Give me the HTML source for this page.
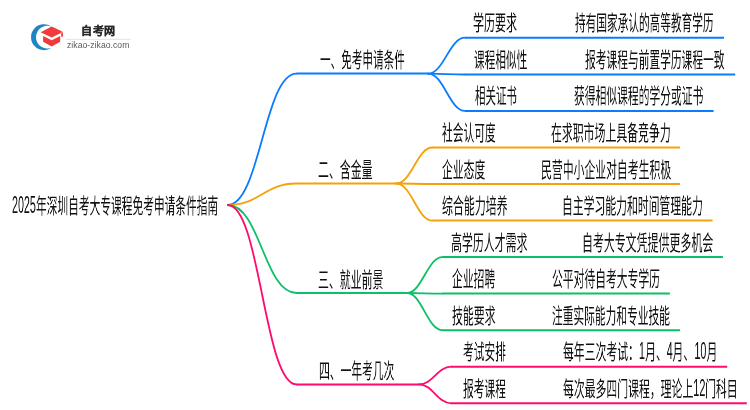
<!DOCTYPE html>
<html lang="zh-CN"><head><meta charset="utf-8"><style>
html,body{margin:0;padding:0;background:#fff;width:750px;height:410px;overflow:hidden;position:relative}
svg.lines{position:absolute;left:0;top:0}
svg.lines path{fill:none;stroke-width:1.8;stroke-linecap:round}
svg.lines path.h{stroke-width:2.0;stroke-linecap:butt}
svg.logo{position:absolute;left:0;top:0}
.d{display:inline-block;transform-origin:0 17.8px;transform:scaleY(1.13)}
.lg1{position:absolute;left:81.3px;top:22.8px;font-family:"Liberation Sans",sans-serif;font-size:11px;line-height:16px;font-weight:bold;color:#2a2a2a;-webkit-text-stroke:0.25px #2a2a2a;white-space:nowrap;letter-spacing:0.7px;will-change:transform}
.lg2{position:absolute;left:67.0px;top:39.5px;font-family:"Liberation Sans",sans-serif;font-size:8.6px;line-height:10px;color:#595959;white-space:nowrap;letter-spacing:0.05px;will-change:transform}
.t{position:absolute;font-family:"Liberation Sans",sans-serif;font-size:21px;line-height:21px;white-space:nowrap;transform-origin:0 0;transform:scaleX(0.515);will-change:transform;color:#111}
</style></head><body>
<svg class="lines" width="750" height="410" viewBox="0 0 750 410"><path d="M227.80 205.00C260.09 205.00 264.21 73.60 296.50 73.60" stroke="#0a7cff"/><path d="M428.20 73.60C443.66 73.60 449.54 37.70 465.00 37.70" stroke="#0a7cff"/><path d="M428.20 73.60C443.66 73.60 449.54 74.50 465.00 74.50" stroke="#0a7cff"/><path d="M428.20 73.60C443.66 73.60 449.54 110.90 465.00 110.90" stroke="#0a7cff"/><path d="M227.80 205.00C260.09 205.00 264.21 183.50 296.50 183.50" stroke="#f2a30c"/><path d="M396.30 183.50C411.46 183.50 417.24 147.50 432.40 147.50" stroke="#f2a30c"/><path d="M396.30 183.50C411.46 183.50 417.24 184.00 432.40 184.00" stroke="#f2a30c"/><path d="M396.30 183.50C411.46 183.50 417.24 220.60 432.40 220.60" stroke="#f2a30c"/><path d="M227.80 205.00C260.09 205.00 264.21 293.00 296.50 293.00" stroke="#0dbf68"/><path d="M407.00 293.00C421.87 293.00 427.53 257.10 442.40 257.10" stroke="#0dbf68"/><path d="M407.00 293.00C421.87 293.00 427.53 293.60 442.40 293.60" stroke="#0dbf68"/><path d="M407.00 293.00C421.87 293.00 427.53 330.20 442.40 330.20" stroke="#0dbf68"/><path d="M227.80 205.00C260.09 205.00 264.21 384.40 296.50 384.40" stroke="#ff0a6e"/><path d="M419.00 384.40C432.48 384.40 437.62 366.70 451.10 366.70" stroke="#ff0a6e"/><path d="M419.00 384.40C432.48 384.40 437.62 403.30 451.10 403.30" stroke="#ff0a6e"/><path class="h" d="M296.50 73.60H428.20" stroke="#0a7cff"/><path class="h" d="M465.00 37.70H724.00" stroke="#0a7cff"/><path class="h" d="M465.00 74.50H735.20" stroke="#0a7cff"/><path class="h" d="M465.00 110.90H713.60" stroke="#0a7cff"/><path class="h" d="M296.50 183.50H396.30" stroke="#f2a30c"/><path class="h" d="M432.40 147.50H680.10" stroke="#f2a30c"/><path class="h" d="M432.40 184.00H680.10" stroke="#f2a30c"/><path class="h" d="M432.40 220.60H712.60" stroke="#f2a30c"/><path class="h" d="M296.50 293.00H407.00" stroke="#0dbf68"/><path class="h" d="M442.40 257.10H722.90" stroke="#0dbf68"/><path class="h" d="M442.40 293.60H669.90" stroke="#0dbf68"/><path class="h" d="M442.40 330.20H680.10" stroke="#0dbf68"/><path class="h" d="M296.50 384.40H419.00" stroke="#ff0a6e"/><path class="h" d="M451.10 366.70H727.20" stroke="#ff0a6e"/><path class="h" d="M451.10 403.30H746.80" stroke="#ff0a6e"/></svg>
<svg class="logo" width="750" height="60" viewBox="0 0 750 60">
<path d="M51.5 26.55 A13 13 0 1 0 51.5 47.85 A11.41 11.41 0 1 1 51.5 26.55Z" fill="#1d84c6"/>
<path d="M40.6 32.2 L51.7 26.6 L62.2 31.6 L61.2 32.2 L61.2 36.7 L62.9 36.7 L62.9 32.0 L51.7 37.6Z" fill="#ef3b3b"/>
<path d="M43.1 36.0 L51.7 40.3 L60.2 36.0 L60.2 41.8 L51.7 46.6 L43.1 41.8Z" fill="#ef3b3b"/>
<rect x="65.8" y="38.9" width="64.8" height="0.9" fill="#e2e2e2"/>
</svg>
<div class="lg1">自考网</div><div class="lg2">zikao-zikao.com</div>
<div class="t" style="left:11.90px;top:194.70px;transform:scaleX(0.5103)"><span class="d">2025</span>年深圳自考大专课程免考申请条件指南</div><div class="t" style="left:319.50px;top:49.20px;transform:scaleX(0.5048)">一、免考申请条件</div><div class="t" style="left:317.59px;top:159.10px;transform:scaleX(0.5199)">二、含金量</div><div class="t" style="left:318.09px;top:268.60px;transform:scaleX(0.5191)">三、就业前景</div><div class="t" style="left:318.51px;top:360.00px;transform:scaleX(0.5122)">四、一年考几次</div><div class="t" style="left:473.28px;top:11.70px;transform:scaleX(0.5236)">学历要求</div><div class="t" style="left:575.00px;top:12.20px;transform:scaleX(0.5076)">持有国家承认的高等教育学历</div><div class="t" style="left:474.30px;top:49.00px;transform:scaleX(0.5074)">课程相似性</div><div class="t" style="left:585.40px;top:49.00px;transform:scaleX(0.5113)">报考课程与前置学历课程一致</div><div class="t" style="left:475.40px;top:85.40px;transform:scaleX(0.4982)">相关证书</div><div class="t" style="left:574.00px;top:85.40px;transform:scaleX(0.5130)">获得相似课程的学分或证书</div><div class="t" style="left:442.10px;top:122.00px;transform:scaleX(0.5112)">社会认可度</div><div class="t" style="left:551.29px;top:122.00px;transform:scaleX(0.5181)">在求职市场上具备竞争力</div><div class="t" style="left:442.10px;top:159.00px;transform:scaleX(0.5138)">企业态度</div><div class="t" style="left:540.60px;top:158.50px;transform:scaleX(0.5166)">民营中小企业对自考生积极</div><div class="t" style="left:441.70px;top:195.10px;transform:scaleX(0.5206)">综合能力培养</div><div class="t" style="left:562.00px;top:195.10px;transform:scaleX(0.5157)">自主学习能力和时间管理能力</div><div class="t" style="left:450.69px;top:231.60px;transform:scaleX(0.5199)">高学历人才需求</div><div class="t" style="left:581.98px;top:231.60px;transform:scaleX(0.5207)">自考大专文凭提供更多机会</div><div class="t" style="left:452.10px;top:268.10px;transform:scaleX(0.5150)">企业招聘</div><div class="t" style="left:552.00px;top:268.10px;transform:scaleX(0.5140)">公平对待自考大专学历</div><div class="t" style="left:452.10px;top:304.70px;transform:scaleX(0.5186)">技能要求</div><div class="t" style="left:552.01px;top:304.70px;transform:scaleX(0.5106)">注重实际能力和专业技能</div><div class="t" style="left:463.40px;top:341.20px;transform:scaleX(0.5102)">考试安排</div><div class="t" style="left:563.30px;top:341.20px;transform:scaleX(0.5164)">每年三次考试：<span class="d">1</span>月、<span class="d">4</span>月、<span class="d">10</span>月</div><div class="t" style="left:463.40px;top:377.80px;transform:scaleX(0.5102)">报考课程</div><div class="t" style="left:563.30px;top:377.80px;transform:scaleX(0.5168)">每次最多四门课程，理论上<span class="d">12</span>门科目</div>
</body></html>
